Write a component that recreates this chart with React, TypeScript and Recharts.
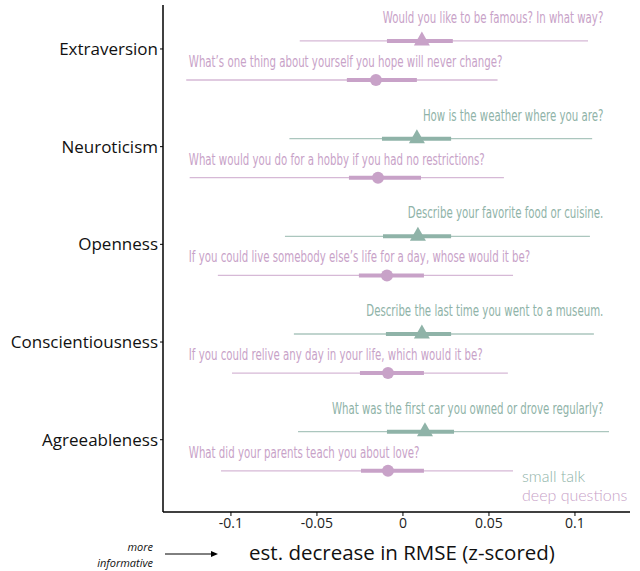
import {
  ComposedChart,
  Scatter,
  XAxis,
  YAxis,
} from 'recharts';

const traits = ['Extraversion', 'Neuroticism', 'Openness', 'Conscientiousness', 'Agreeableness'];

// top row of each trait (triangle)
const topQuestions = [
  'Would you like to be famous? In what way?',
  'How is the weather where you are?',
  'Describe your favorite food or cuisine.',
  'Describe the last time you went to a museum.',
  'What was the first car you owned or drove regularly?',
];
const topType = ['deep', 'small', 'small', 'small', 'small'];
const topEst = [0.011, 0.0081, 0.0087, 0.011, 0.0128];
const topInnerLo = [-0.0093, -0.0122, -0.0116, -0.0099, -0.0093];
const topInnerHi = [0.029, 0.028, 0.028, 0.028, 0.0297];
const topOuterLo = [-0.06, -0.066, -0.0686, -0.0634, -0.061];
const topOuterHi = [0.1076, 0.11, 0.1087, 0.111, 0.1198];

// bottom row of each trait (circle)
const bottomQuestions = [
  'What\u2019s one thing about yourself you hope will never change?',
  'What would you do for a hobby if you had no restrictions?',
  'If you could live somebody else\u2019s life for a day, whose would it be?',
  'If you could relive any day in your life, which would it be?',
  'What did your parents teach you about love?',
];
const bottomType = ['deep', 'deep', 'deep', 'deep', 'deep'];
const bottomEst = [-0.0157, -0.0145, -0.0093, -0.0087, -0.0087];
const bottomInnerLo = [-0.0326, -0.0314, -0.0256, -0.025, -0.0244];
const bottomInnerHi = [0.0081, 0.0105, 0.0122, 0.0122, 0.0122];
const bottomOuterLo = [-0.126, -0.124, -0.1076, -0.0994, -0.1058];
const bottomOuterHi = [0.055, 0.0587, 0.064, 0.061, 0.064];

const xTicks = [-0.1, -0.05, 0, 0.05, 0.1];

const COLORS: Record<string, string> = { small: '#8fb3a8', deep: '#c8a2c8' };
const TOP_OFFSET = -0.082;
const BOTTOM_OFFSET = 0.318;
const TOP_LABEL_X = 0.1165;
const BOTTOM_LABEL_X = -0.1245;

const font = "'DejaVu Sans Condensed', 'DejaVu Sans', sans-serif";

type Row = {
  y: number;
  est: number;
  innerLo: number;
  innerHi: number;
  outerLo: number;
  outerHi: number;
  color: string;
  text: string;
  shape: 'triangle' | 'circle';
  anchor: 'start' | 'end';
  labelX: number;
};

const rows: Row[] = [];
traits.forEach((_, i) => {
  rows.push({
    y: i + TOP_OFFSET,
    est: topEst[i],
    innerLo: topInnerLo[i],
    innerHi: topInnerHi[i],
    outerLo: topOuterLo[i],
    outerHi: topOuterHi[i],
    color: COLORS[topType[i]],
    text: topQuestions[i],
    shape: 'triangle',
    anchor: 'end',
    labelX: TOP_LABEL_X,
  });
  rows.push({
    y: i + BOTTOM_OFFSET,
    est: bottomEst[i],
    innerLo: bottomInnerLo[i],
    innerHi: bottomInnerHi[i],
    outerLo: bottomOuterLo[i],
    outerHi: bottomOuterHi[i],
    color: COLORS[bottomType[i]],
    text: bottomQuestions[i],
    shape: 'circle',
    anchor: 'start',
    labelX: BOTTOM_LABEL_X,
  });
});

const noDot = () => <g />;

const noteStyle = {
  position: 'absolute' as const,
  right: 640 - 153,
  textAlign: 'right' as const,
  fontFamily: "'Open Sans', sans-serif",
  fontStyle: 'italic',
  fontSize: 11,
  lineHeight: '13px',
  color: '#111',
  whiteSpace: 'nowrap' as const,
};

export default function App() {
  return (
    <div style={{ position: 'absolute', left: 0, top: 0, width: 640, height: 571, background: '#fff' }}>
      <ComposedChart
        width={640}
        height={571}
        margin={{ top: 5, right: 10, left: 0, bottom: 29 }}
      >
        <XAxis
          type="number"
          dataKey="x"
          domain={[-0.1395, 0.132]}
          ticks={xTicks}
          tickFormatter={(v: number) => String(v)}
          axisLine={{ stroke: '#000', strokeWidth: 1.5 }}
          tickLine={{ stroke: '#000' }}
          tickSize={4}
          height={30}
          tick={{ fill: '#222', fontSize: 14, fontFamily: "'Open Sans', sans-serif" }}
          allowDataOverflow
        />
        <YAxis
          type="number"
          dataKey="y"
          domain={[-0.45, 4.74]}
          reversed
          ticks={[0, 1, 2, 3, 4]}
          tickFormatter={(v: number) => traits[v]}
          width={163}
          axisLine={{ stroke: '#000', strokeWidth: 1.5 }}
          tickLine={{ stroke: '#000' }}
          tickSize={3}
          tick={{ fill: '#111', fontSize: 17, fontFamily: "'Open Sans', sans-serif" }}
          allowDataOverflow
        />
        {rows.map((r, i) => (
          <Scatter
            key={`outer-${i}`}
            data={[{ x: r.outerLo, y: r.y }, { x: r.outerHi, y: r.y }]}
            line={{ stroke: r.color, strokeWidth: 1.3, strokeOpacity: 0.75 }}
            shape={noDot}
            isAnimationActive={false}
          />
        ))}
        {rows.map((r, i) => (
          <Scatter
            key={`inner-${i}`}
            data={[{ x: r.innerLo, y: r.y }, { x: r.innerHi, y: r.y }]}
            line={{ stroke: r.color, strokeWidth: 4 }}
            shape={noDot}
            isAnimationActive={false}
          />
        ))}
        {rows.map((r, i) => (
          <Scatter
            key={`pt-${i}`}
            data={[{ x: r.est, y: r.y }]}
            isAnimationActive={false}
            shape={(p: any) =>
              r.shape === 'circle' ? (
                <circle cx={p.cx} cy={p.cy} r={6} fill={r.color} />
              ) : (
                <path
                  d={`M${p.cx - 8},${p.cy + 4.5} L${p.cx + 8},${p.cy + 4.5} L${p.cx},${p.cy - 9.5} Z`}
                  fill={r.color}
                />
              )
            }
          />
        ))}
        {rows.map((r, i) => (
          <Scatter
            key={`lab-${i}`}
            data={[{ x: r.labelX, y: r.y }]}
            isAnimationActive={false}
            shape={(p: any) => (
              <g transform={`translate(${p.cx},${p.cy + (r.shape === 'triangle' ? -18 : -13)}) scale(0.71,1)`}>
                <text
                  x={0}
                  y={0}
                  textAnchor={r.anchor}
                  fill={r.color}
                  fontSize={16}
                  fontFamily={font}
                >
                  {r.text}
                </text>
              </g>
            )}
          />
        ))}
      </ComposedChart>
      <div style={{ position: 'absolute', left: 522, top: 466, fontFamily: 'Lato, sans-serif', fontSize: 16, lineHeight: '19px', fontWeight: 300 }}>
        <div style={{ color: COLORS.small }}>small talk</div>
        <div style={{ color: COLORS.deep }}>deep questions</div>
      </div>
      <div
        style={{
          position: 'absolute',
          left: 0,
          width: 402 * 2,
          textAlign: 'center',
          top: 538,
          fontFamily: "'Open Sans', sans-serif",
          fontSize: 20.5,
          color: '#111',
        }}
      >
        est. decrease in RMSE (z-scored)
      </div>
      <div style={{ ...noteStyle, top: 540 }}>more</div>
      <div style={{ ...noteStyle, top: 556 }}>informative</div>
      <svg style={{ position: 'absolute', left: 160, top: 548 }} width={62} height={12}>
        <line x1={5} y1={6} x2={53} y2={6} stroke="#000" strokeWidth={1} />
        <path d="M58,6 L51,3 L51,9 Z" fill="#000" />
      </svg>
    </div>
  );
}
